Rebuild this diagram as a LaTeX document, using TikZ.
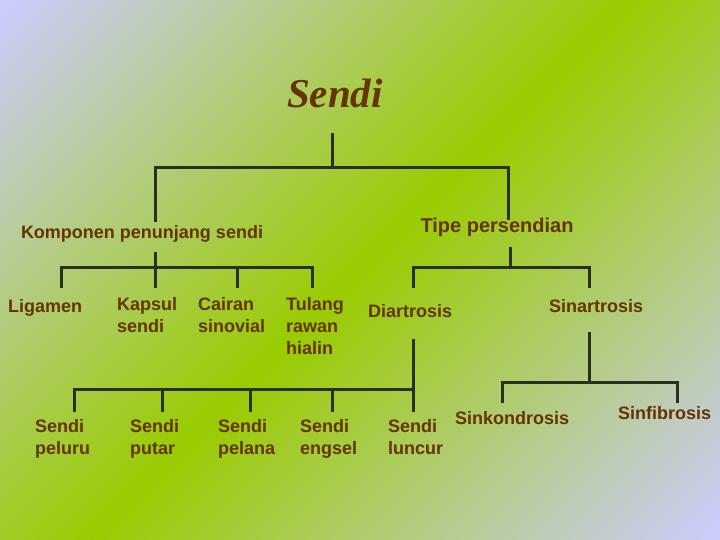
\documentclass[tikz,border=0pt]{standalone}
\usepackage{fontspec}
\setmainfont{Liberation Sans}
\newfontfamily\titlefont{Liberation Serif}
\usetikzlibrary{positioning}

\definecolor{slidelav}{RGB}{204,204,255}
\definecolor{slidegreen}{RGB}{153,204,0}
\definecolor{textbrown}{RGB}{102,51,0}
\definecolor{treeline}{RGB}{40,48,32}
\pgfdeclareverticalshading{slidebg}{100bp}{color(0bp)=(slidelav); color(14.6bp)=(slidelav);
  color(50bp)=(slidegreen); color(85.4bp)=(slidelav); color(100bp)=(slidelav)}

\begin{document}
\begin{tikzpicture}[x=1pt,y=-1pt,
  title node/.style={inner sep=0pt,anchor=base,text=textbrown,font=\titlefont\bfseries\itshape\fontsize{41}{48}\selectfont},
  main node/.style={inner sep=0pt,anchor=base west,align=left,text=textbrown,font=\bfseries\fontsize{18}{21.6}\selectfont},
  tree line/.style={draw=treeline,line width=3pt}]

  \shade[shading=slidebg,shading angle=45] (0,0) rectangle (720,540);
  \useasboundingbox (0,0) rectangle (720,540);

  \node[title node] (sendi) at (335,108) {Sendi};
  \node[main node,anchor=base] (komponen) at (142,238) {Komponen penunjang sendi};
  \node[main node,anchor=base,font=\bfseries\fontsize{20}{24}\selectfont] (tipe) at (497,233) {Tipe persendian};

  % multi-line nodes sit on the baseline of their last line
  \node[main node] (ligamen) at (8,312) {Ligamen};
  \node[main node] (kapsul) at (117,332) {Kapsul\\sendi};
  \node[main node] (cairan) at (198,332) {Cairan\\sinovial};
  \node[main node] (tulang) at (286,354) {Tulang\\rawan\\hialin};
  \node[main node] (diartrosis) at (368,317) {Diartrosis};
  \node[main node] (sinartrosis) at (549,312) {Sinartrosis};

  \node[main node] (peluru) at (35,454) {Sendi\\peluru};
  \node[main node] (putar) at (130,454) {Sendi\\putar};
  \node[main node] (pelana) at (218,454) {Sendi\\pelana};
  \node[main node] (engsel) at (300,454) {Sendi\\engsel};
  \node[main node] (luncur) at (388,454) {Sendi\\luncur};
  \node[main node] (sinkondrosis) at (455,424) {Sinkondrosis};
  \node[main node] (sinfibrosis) at (618,419) {Sinfibrosis};

  % tree junctions
  \coordinate (root) at (332,133);
  \coordinate (rootbus) at (332,168);
  \coordinate (kompdrop) at (155,222);
  \coordinate (tipedrop) at (508,220);
  \coordinate (kompstem) at (155,252);
  \coordinate (kompbus) at (155,267);
  \coordinate (ligdrop) at (61,288);
  \coordinate (kapsuldrop) at (155,288);
  \coordinate (cairandrop) at (237,288);
  \coordinate (tulangdrop) at (312,288);
  \coordinate (tipestem) at (510,247);
  \coordinate (tipebus) at (510,267);
  \coordinate (diadrop) at (413,288);
  \coordinate (sinadrop) at (589,288);
  \coordinate (diastem) at (413,339);
  \coordinate (diabus) at (413,389);
  \coordinate (pelurudrop) at (74,412);
  \coordinate (putardrop) at (162,412);
  \coordinate (pelanadrop) at (250,412);
  \coordinate (engseldrop) at (332,412);
  \coordinate (luncurdrop) at (413,412);
  \coordinate (sinastem) at (589,332);
  \coordinate (sinabus) at (589,382);
  \coordinate (kondrodrop) at (502,403);
  \coordinate (fibrodrop) at (677,403);

  \draw[tree line] (root) -- (rootbus);
  \draw[tree line] (kompdrop) |- (rootbus) -| (tipedrop);

  \draw[tree line] (kompstem) -- (kapsuldrop);
  \draw[tree line] (ligdrop) |- (kompbus) -| (tulangdrop);
  \draw[tree line] (cairandrop) -- (cairandrop |- kompbus);

  \draw[tree line] (tipestem) -- (tipebus);
  \draw[tree line] (diadrop) |- (tipebus) -| (sinadrop);

  \draw[tree line] (diastem) -- (luncurdrop);
  \draw[tree line] (pelurudrop) |- (diabus);
  \draw[tree line] (putardrop) -- (putardrop |- diabus);
  \draw[tree line] (pelanadrop) -- (pelanadrop |- diabus);
  \draw[tree line] (engseldrop) -- (engseldrop |- diabus);

  \draw[tree line] (sinastem) -- (sinabus);
  \draw[tree line] (kondrodrop) |- (sinabus) -| (fibrodrop);
\end{tikzpicture}
\end{document}
